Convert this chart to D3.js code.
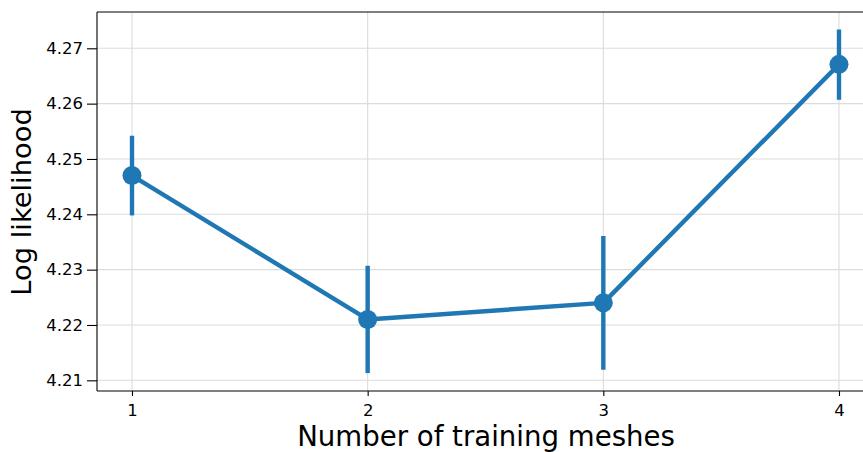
<!DOCTYPE html>
<html>
<head>
<meta charset="utf-8">
<script src="https://cdn.jsdelivr.net/npm/d3@7"></script>
<style>
  html, body { margin: 0; padding: 0; background: #fff; }
  svg { display: block; font-family: "DejaVu Sans", sans-serif; }
</style>
</head>
<body>
<svg id="chart" width="863" height="452"></svg>
<script>
// Mean log likelihood per training-set size, with confidence bounds
const meshCounts = [1, 2, 3, 4];
const meanLogLik = [4.2470, 4.2210, 4.2240, 4.2671];
const lowerBound = [4.2398, 4.2113, 4.2119, 4.2607];
const upperBound = [4.2542, 4.2307, 4.2361, 4.2734];
const yTicks = [4.21, 4.22, 4.23, 4.24, 4.25, 4.26, 4.27];
const xTicks = [1, 2, 3, 4];

const plot = { left: 97, right: 863, top: 12, bottom: 391 };
const blue = "#1f77b4";
const gridColor = "#dcdcdc";

const svg = d3.select("#chart");

const x = d3.scaleLinear()
  .domain([0.8515, 4.1019])
  .range([plot.left, plot.right]);
const y = d3.scaleLinear()
  .domain([4.20807, 4.27656])
  .range([plot.bottom, plot.top]);

// grid
const grid = svg.append("g");
grid.selectAll("line.gy").data(yTicks).join("line")
  .attr("x1", plot.left).attr("x2", plot.right)
  .attr("y1", d => y(d)).attr("y2", d => y(d))
  .attr("stroke", gridColor).attr("stroke-width", 1.1);
grid.selectAll("line.gx").data(xTicks).join("line")
  .attr("x1", d => x(d)).attr("x2", d => x(d))
  .attr("y1", plot.top).attr("y2", plot.bottom)
  .attr("stroke", gridColor).attr("stroke-width", 1.1);

// data
const pts = meshCounts.map((m, i) => ({ m, v: meanLogLik[i], lo: lowerBound[i], hi: upperBound[i] }));

svg.append("g").selectAll("line").data(pts).join("line")
  .attr("x1", d => x(d.m)).attr("x2", d => x(d.m))
  .attr("y1", d => y(d.lo)).attr("y2", d => y(d.hi))
  .attr("stroke", blue).attr("stroke-width", 4.4);

svg.append("path")
  .datum(pts)
  .attr("fill", "none")
  .attr("stroke", blue)
  .attr("stroke-width", 4.4)
  .attr("stroke-linejoin", "round")
  .attr("d", d3.line().x(d => x(d.m)).y(d => y(d.v)));

svg.append("g").selectAll("circle").data(pts).join("circle")
  .attr("cx", d => x(d.m)).attr("cy", d => y(d.v))
  .attr("r", 9.5).attr("fill", blue);

// axes
const yAxis = d3.axisLeft(y).tickValues(yTicks).tickFormat(d3.format(".2f"))
  .tickSizeOuter(0).tickSize(10).tickPadding(4);
const xAxis = d3.axisBottom(x).tickValues(xTicks).tickFormat(d3.format("d"))
  .tickSizeOuter(0).tickSize(5).tickPadding(8);

const gy = svg.append("g").attr("transform", `translate(${plot.left},0)`).call(yAxis);
const gx = svg.append("g").attr("transform", `translate(0,${plot.bottom})`).call(xAxis);
[gx, gy].forEach(g => {
  g.attr("font-size", null).attr("font-family", null);
  g.select(".domain").remove();
  g.selectAll(".tick line").attr("stroke", "#000").attr("stroke-width", 1.1);
  g.selectAll(".tick text").attr("fill", "#000")
    .style("font-size", "16.5px").style("font-family", "'DejaVu Sans'");
});

// spines
const spine = (x1, y1, x2, y2) => svg.append("line")
  .attr("x1", x1).attr("y1", y1).attr("x2", x2).attr("y2", y2)
  .attr("stroke", "#000").attr("stroke-width", 1.1);
spine(plot.left, plot.top, plot.left, plot.bottom);
spine(plot.left, plot.bottom, plot.right, plot.bottom);
spine(plot.left, plot.top, plot.right, plot.top);

// axis titles
svg.append("text")
  .attr("x", 486).attr("y", 446)
  .attr("text-anchor", "middle")
  .style("font-size", "27.6px").attr("fill", "#000")
  .text("Number of training meshes");

svg.append("text")
  .attr("transform", `translate(31,202) rotate(-90)`)
  .attr("text-anchor", "middle")
  .style("font-size", "27.3px").attr("fill", "#000")
  .text("Log likelihood");
</script>
</body>
</html>
